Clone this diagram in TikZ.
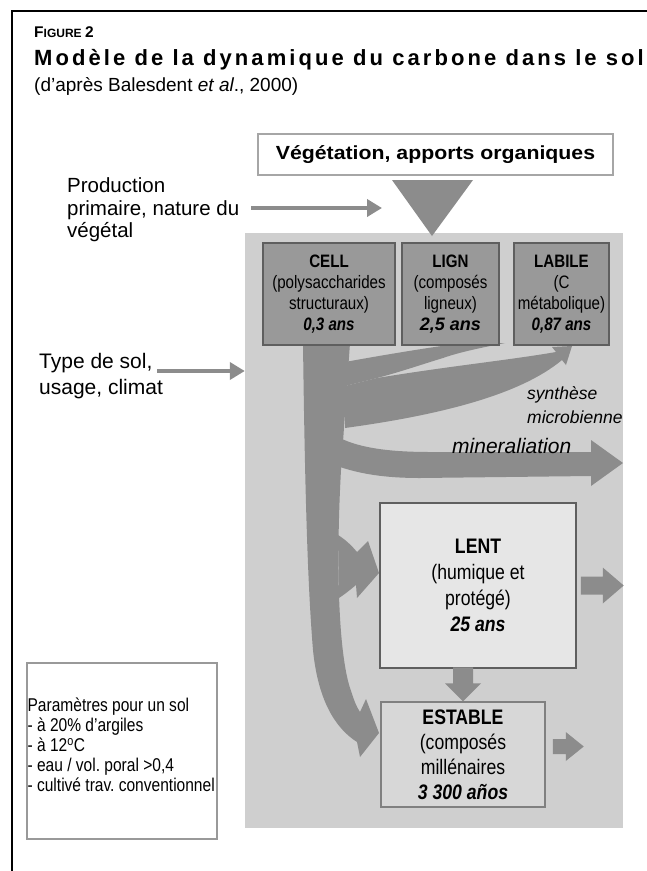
\documentclass[tikz,border=0pt]{standalone}
\usepackage{fontspec}
\setmainfont{Liberation Sans}
\newfontfamily\narrowfont{Liberation Sans}[FakeStretch=0.84]
\newfontfamily\spacedfont{Liberation Sans}[LetterSpace=14]
\newfontfamily\widefont{Liberation Sans}[FakeStretch=1.12]
\usetikzlibrary{arrows.meta}
\definecolor{flowgray}{HTML}{8C8C8C}
\definecolor{soilgray}{HTML}{CFCFCF}
\definecolor{poolgray}{HTML}{999999}
\definecolor{lentgray}{HTML}{E6E6E6}
\definecolor{stablegray}{HTML}{D7D7D7}
\definecolor{edgegray}{HTML}{5F5F5F}
\newcommand{\setfs}[2]{\fontsize{#1}{#2}\selectfont}
\frenchspacing

\begin{document}
\begin{tikzpicture}[x=1pt, y=-1pt,
    pool/.style={draw=edgegray, fill=poolgray, line width=1.2pt, align=center,
      inner sep=0pt, minimum height=102pt, font=\narrowfont\setfs{18}{21}},
    flow/.style={fill=flowgray},
    feed/.style={draw=flowgray, line width=4pt, -{Triangle[length=15pt,width=17pt]}}]
  \useasboundingbox (0,0) rectangle (647,871);
  % frame
  \draw[line width=2.5pt] (12,871) -- (12,11) -- (647,11);
  % heading
  \node[anchor=base west, inner sep=0pt, font=\bfseries] (fig) at (34,37)
    {\setfs{15.5}{15}F\setfs{12}{15}IGURE \setfs{15.5}{15}2};
  \node[anchor=base west, inner sep=0pt, font=\spacedfont\bfseries\setfs{22}{22}] (title) at (34,65)
    {Modèle de la dynamique du carbone dans le sol};
  \node[anchor=base west, inner sep=0pt, font=\setfs{19}{19}] (source) at (34,91)
    {(d’après Balesdent \textit{et al}., 2000)};
  % soil compartment
  \node[fill=soilgray, minimum width=378pt, minimum height=595pt, inner sep=0pt] (soil) at (434,530.5) {};
  % vegetation input
  \node[draw=gray!70, fill=white, line width=1.5pt, minimum width=355pt, minimum height=41pt,
    inner sep=0pt, font=\widefont\bfseries\setfs{19}{19}] (veg) at (435.5,154.5)
    {Végétation, apports organiques};
  \fill[flow] (392,180) -- (473,180) -- (432,236) -- cycle;
  % outside factors
  \node[anchor=west, inner sep=0pt, align=left, font=\setfs{20.5}{22.5}] (prod) at (67,210)
    {Production\\primaire, nature du\\végétal};
  \coordinate (prodtip) at (382,208);
  \draw[feed] ([xshift=12pt]prod.east |- prodtip) -- (prodtip);
  \node[anchor=west, inner sep=0pt, align=left, font=\setfs{21}{26}] (soiltype) at (39,376)
    {Type de sol,\\usage, climat};
  \coordinate (typeline) at (157,371);
  \draw[feed] (typeline) -- (soil.west |- typeline);
  % trunk down to ESTABLE
  \fill[flow] (303,343) -- (350,343) -- (341,470) .. controls (336,560) and (338,650) .. (350,688)
    .. controls (354,700) and (356,706) .. (360,712) -- (366,699) -- (379,733) -- (360,757)
    -- (357,742) .. controls (335,728) and (318,700) .. (313,650)
    .. controls (308,590) and (305,500) .. (303,343) -- cycle;
  % branch to LENT
  \fill[flow] (338,535) .. controls (346,540) and (352,546) .. (357,552) -- (368,541) -- (379,573)
    -- (357,598) -- (356,585) .. controls (350,590) and (345,594) .. (339,598) -- cycle;
  % from LIGN into trunk
  \fill[flow] (345,362) .. controls (400,352) and (440,346) .. (463,343) -- (505,343)
    .. controls (480,348) and (460,352) .. (443,358) .. controls (420,365) and (400,372) .. (377,378)
    -- (345,386) -- cycle;
  % synthese microbienne
  \fill[flow] (345,386) -- (377,378) .. controls (450,366) and (510,360) .. (556,352)
    -- (552,347) -- (572,346) -- (566,365) -- (562,360)
    .. controls (520,395) and (440,415) .. (345,428) -- cycle;
  % mineralisation
  \fill[flow] (340,438) .. controls (360,448) and (390,452) .. (430,452) -- (591,452) -- (591,440)
    -- (623,463) -- (591,486) -- (591,476) -- (420,478) .. controls (385,478) and (360,474) .. (337,466) -- cycle;
  % pools
  \node[pool, minimum width=132pt] (cell) at (329,294)
    {\textbf{CELL}\\(polysaccharides\\structuraux)\\\textbf{\textit{0,3 ans}}};
  \node[pool, minimum width=97pt] (lign) at (450.5,294)
    {\textbf{LIGN}\\(composés\\ligneux)\\{\normalfont\bfseries\itshape 2,5 ans}};
  \node[pool, minimum width=95pt] (labile) at (561.5,294)
    {\textbf{LABILE}\\(C\\métabolique)\\\textbf{\textit{0,87 ans}}};
  \node[draw=edgegray, fill=lentgray, line width=1.5pt, minimum width=196pt, minimum height=165pt,
    inner sep=0pt, align=center, font=\narrowfont\setfs{21}{26}] (lent) at (478,585.5)
    {\textbf{LENT}\\(humique et\\protégé)\\\textbf{\textit{25 ans}}};
  \node[draw=gray, fill=stablegray, line width=1.5pt, minimum width=164pt, minimum height=105pt,
    inner sep=0pt, align=center, font=\narrowfont\setfs{21}{25}] (estable) at (463,754.5)
    {\textbf{ESTABLE}\\(composés\\millénaires\\\textbf{\textit{3 300 años}}};
  % transfers and outputs
  \fill[flow] (estable.north) -- ++(-18,-18) -- ++(8,0) -- ++(0,-16) -- ++(20,0) -- ++(0,16)
    -- ++(8,0) -- cycle;
  \fill[flow] ([xshift=4pt]lent.east) ++(0,-9) -- ++(22,0) -- ++(0,-9) -- ++(21,18) -- ++(-21,18)
    -- ++(0,-9) -- ++(-22,0) -- cycle;
  \fill[flow] ([xshift=7pt,yshift=8pt]estable.east) ++(0,-7.5) -- ++(13,0) -- ++(0,-7) -- ++(18,14.5)
    -- ++(-18,14.5) -- ++(0,-7) -- ++(-13,0) -- cycle;
  % flow labels
  \node[anchor=west, inner sep=0pt, align=left, font=\itshape\setfs{17.5}{24}] (synth) at (527,405)
    {synthèse\\microbienne};
  \node[anchor=base west, inner sep=0pt, font=\itshape\setfs{21}{21}] (miner) at (452,453) {mineraliation};
  % parameters
  \node[draw=gray!80, fill=white, line width=1.2pt, minimum width=190pt, minimum height=176pt] (param) at (122,751) {};
  \node[anchor=west, inner sep=0pt, align=left, font=\narrowfont\setfs{18.5}{20}] (paramtext)
    at ([xshift=1pt,yshift=6pt]param.west)
    {Paramètres pour un sol\\- à 20\% d’argiles\\- à 12\textsuperscript{o}C\\- eau / vol. poral >0,4\\- cultivé trav. conventionnel};
\end{tikzpicture}
\end{document}
